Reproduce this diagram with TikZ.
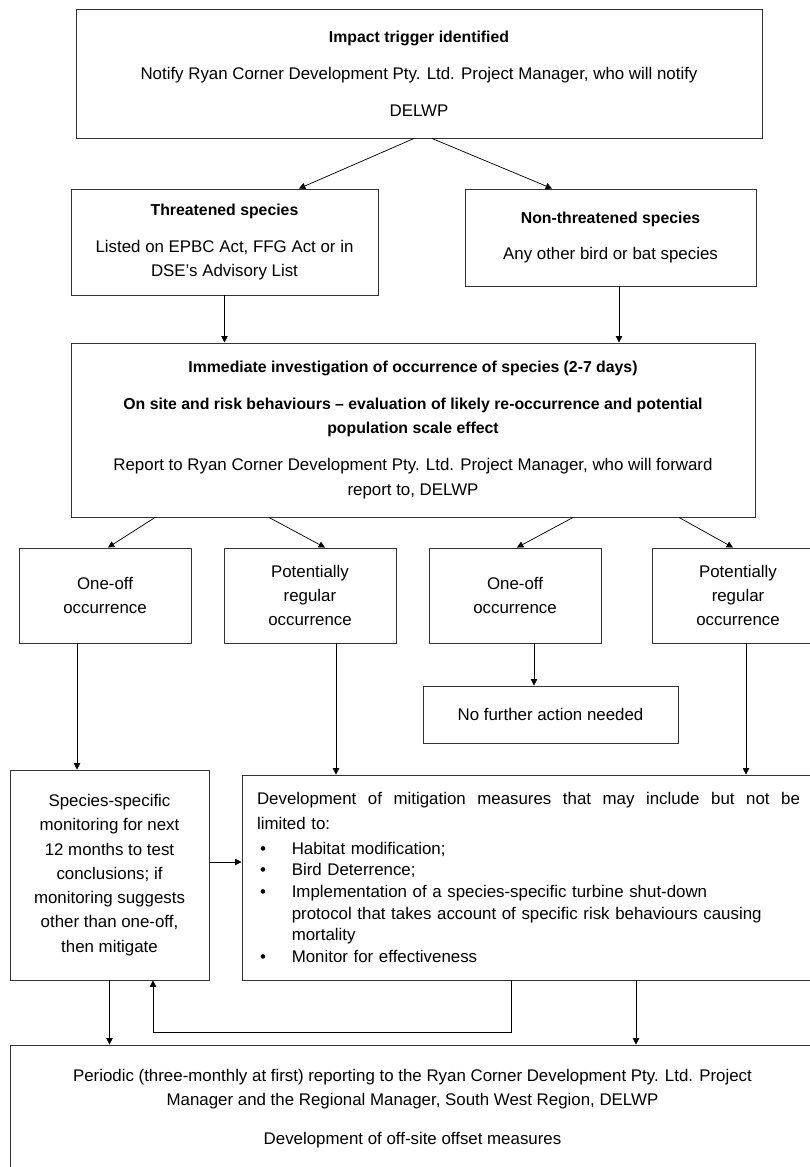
\documentclass[tikz,border=0pt]{standalone}
\usepackage{fontspec}
\setmainfont{Liberation Sans}
\usepackage{tikz}
\usetikzlibrary{arrows.meta, calc}

\tikzset{
  flowbox/.style={draw=black!80, line width=0.9pt, align=center, inner sep=3pt, font=\fontsize{16}{23}\selectfont},
  flowarrow/.style={-{Triangle[width=6pt,length=6pt]}, line width=0.7pt},
}
\newcommand{\boxhead}[1]{{\fontsize{15}{23}\selectfont\bfseries #1}}
\newcommand{\mitbullet}{\makebox[33pt][l]{\hspace{3pt}\textbullet}}

\begin{document}
\begin{tikzpicture}
  \useasboundingbox (0,0) rectangle (27,-38.9);

  % Trigger
  \node[flowbox, minimum width=22.867cm, minimum height=4.3cm] (trigger) at (13.967,-2.45) {
    \boxhead{Impact trigger identified}\\[12pt]
    Notify Ryan Corner Development Pty. Ltd. Project Manager, who will notify\\[12pt]
    DELWP
  };

  % Species groups
  \node[flowbox, minimum width=10.233cm, minimum height=3.533cm] (threat) at (7.483,-8.067) {
    \boxhead{Threatened species}\\[12pt]
    Listed on EPBC Act, FFG Act or in\\
    DSE's Advisory List
  };
  \node[flowbox, minimum width=9.7cm, minimum height=3.233cm] (nonthreat) at (20.35,-7.917) {
    \boxhead{Non-threatened species}\\[12pt]
    Any other bird or bat species
  };

  % Investigation
  \node[flowbox, minimum width=22.8cm, minimum height=5.8cm] (invest) at (13.767,-14.333) {
    \boxhead{Immediate investigation of occurrence of species (2-7 days)}\\[12pt]
    \boxhead{On site and risk behaviours -- evaluation of likely re-occurrence and potential}\\
    \boxhead{population scale effect}\\[12pt]
    Report to Ryan Corner Development Pty. Ltd. Project Manager, who will forward\\
    report to, DELWP
  };

  % Occurrence
  \node[flowbox, minimum width=5.733cm, minimum height=3.167cm] (oneoffA) at (3.5,-19.85) {One-off\\occurrence};
  \node[flowbox, minimum width=5.733cm, minimum height=3.167cm] (regularA) at (10.333,-19.85) {Potentially\\regular\\occurrence};
  \node[flowbox, minimum width=5.733cm, minimum height=3.167cm] (oneoffB) at (17.167,-19.85) {One-off\\occurrence};
  \node[flowbox, minimum width=5.733cm, minimum height=3.167cm] (regularB) at (24.6,-19.85) {Potentially\\regular\\occurrence};

  \node[flowbox, minimum width=8.5cm, minimum height=1.9cm] (nofurther) at (18.35,-23.817) {No further action needed};

  % Responses
  \node[flowbox, minimum width=6.633cm, minimum height=7cm] (monitor) at (3.65,-29.167) {
    Species-specific\\ monitoring for next\\ 12 months to test\\ conclusions; if\\ monitoring suggests\\ other than one-off,\\ then mitigate
  };
  \node[flowbox, align=left, text width=18.1cm, minimum width=19.1cm, minimum height=6.833cm, font=\fontsize{16}{20.5}\selectfont] (mitigate) at (17.617,-29.25) {
    \makebox[18.1cm][s]{\spaceskip=4pt plus 1fil Development of mitigation measures that may include but not be}\\[3pt]
    limited to:\\[3pt]
    \mitbullet Habitat modification;\\
    \mitbullet Bird Deterrence;\\
    \mitbullet Implementation of a species-specific turbine shut-down\\
    \hspace*{33pt}protocol that takes account of specific risk behaviours causing\\
    \hspace*{33pt}mortality\\
    \mitbullet Monitor for effectiveness
  };

  % Reporting
  \node[flowbox, minimum width=26.833cm, minimum height=4.233cm] (report) at (13.75,-36.95) {
    Periodic (three-monthly at first) reporting to the Ryan Corner Development Pty. Ltd. Project\\
    Manager and the Regional Manager, South West Region, DELWP\\[14pt]
    Development of off-site offset measures
  };

  % Arrows
  \draw[flowarrow] ([xshift=-0.167cm]trigger.south) -- ([xshift=2.483cm]threat.north);
  \draw[flowarrow] ([xshift=0.433cm]trigger.south) -- ([xshift=-1.95cm]nonthreat.north);
  \draw[flowarrow] (threat.south) -- (threat.south |- invest.north);
  \draw[flowarrow] ($(nonthreat.south)+(0.283,0)$) -- ($(nonthreat.south |- invest.north)+(0.283,0)$);

  \draw[flowarrow] ([xshift=-8.6cm]invest.south) -- ([xshift=0.1cm]oneoffA.north);
  \draw[flowarrow] ([xshift=-4.8cm]invest.south) -- ([xshift=0.5cm]regularA.north);
  \draw[flowarrow] ([xshift=5.333cm]invest.south) -- ([xshift=0.067cm]oneoffB.north);
  \draw[flowarrow] ([xshift=8.867cm]invest.south) -- ([xshift=-0.167cm]regularB.north);

  \draw[flowarrow] ($(oneoffB.south)+(0.633,0)$) -- ($(oneoffB.south |- nofurther.north)+(0.633,0)$);
  \draw[flowarrow] ($(oneoffA.south)+(-0.933,0)$) -- ($(oneoffA.south |- monitor.north)+(-0.933,0)$);
  \draw[flowarrow] ($(regularA.south)+(0.867,0)$) -- ($(regularA.south |- mitigate.north)+(0.867,0)$);
  \draw[flowarrow] ($(regularB.south)+(0.267,0)$) -- ($(regularB.south |- mitigate.north)+(0.267,0)$);

  \draw[flowarrow] ($(monitor.east)+(0,0.433)$) -- ($(monitor.east -| mitigate.west)+(0,0.433)$);
  \draw[flowarrow] (monitor.south) -- (monitor.south |- report.north);
  \coordinate (loop) at (5.1,-34.4);
  \draw[flowarrow] ($(mitigate.south)+(-0.583,0)$) |- (loop) -- (loop |- monitor.south);
  \draw[flowarrow] ($(mitigate.south)+(3.583,0)$) -- ($(mitigate.south |- report.north)+(3.583,0)$);
\end{tikzpicture}
\end{document}
